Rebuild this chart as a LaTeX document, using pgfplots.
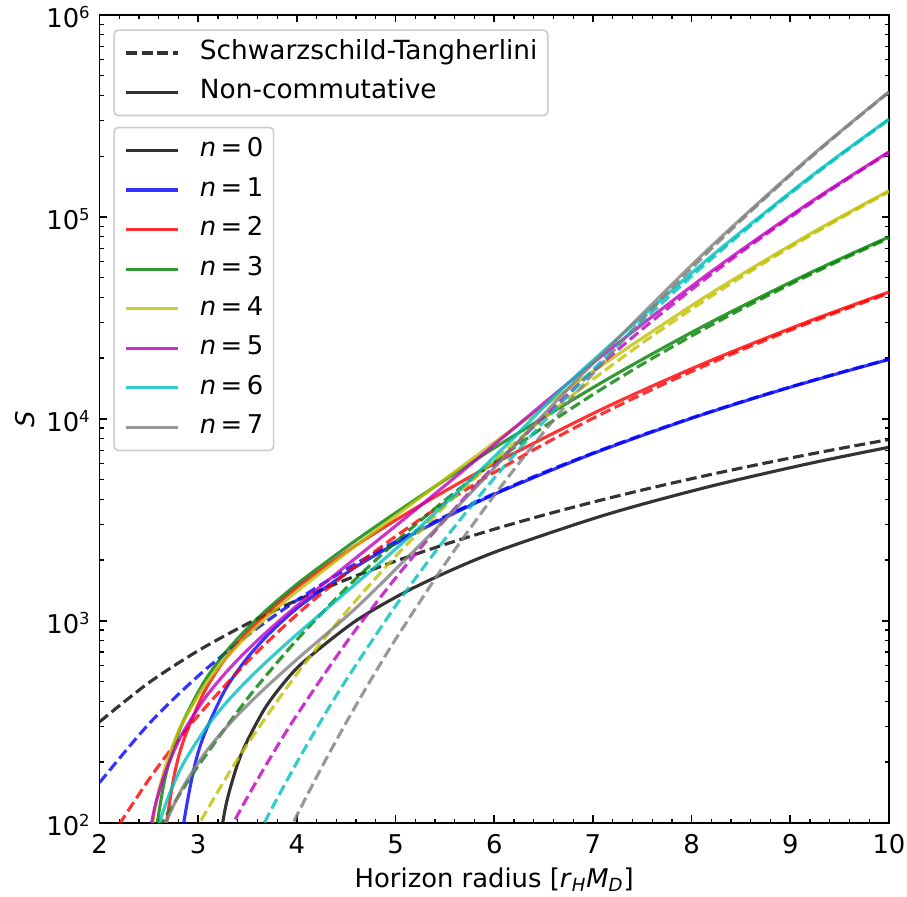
\documentclass[border=0pt]{standalone}
\usepackage{fontspec}
\setmainfont{DejaVu Sans}
\usepackage{pgfplots}
\pgfplotsset{compat=1.18}

\definecolor{mplb}{rgb}{0,0,1}
\definecolor{mplr}{rgb}{1,0,0}
\definecolor{mplg}{rgb}{0,0.5,0}
\definecolor{mply}{rgb}{0.75,0.75,0}
\definecolor{mplm}{rgb}{0.75,0,0.75}
\definecolor{mplc}{rgb}{0,0.75,0.75}
\definecolor{mplgray}{rgb}{0.5,0.5,0.5}

\newcommand{\tenpow}[1]{10\raisebox{4.3pt}{\fontsize{7.9}{9}\selectfont #1}}
\newcommand{\nlab}[1]{\textit{n}\hspace{0.17em}=\hspace{0.17em}#1}

\pgfplotsset{
  frame/.style={at={(0pt,0pt)}, anchor=south west, scale only axis,
    width=378.96pt, height=387.7pt},
  leg/.style={
    legend style={draw=black!20, line width=0.8pt, rounded corners=2pt,
      fill=white, fill opacity=0.8, text opacity=1,
      inner xsep=5pt, inner ysep=5pt, row sep=7pt,
      nodes={inner sep=0pt, text height=9pt, text depth=3pt},
      /tikz/every odd column/.append style={column sep=9.9pt}},
    legend cell align=left,
    legend image code/.code={\draw[##1] (0pt,0pt) -- (24.8pt,0pt);}},
  nc/.style={line width=1.5pt, draw opacity=0.8, line join=round, smooth, tension=0.5},
  st/.style={nc, dash pattern=on 5.2pt off 2.3pt},
}

\begin{document}
\fontsize{12.4}{14.9}\selectfont
\begin{tikzpicture}
\path[use as bounding box] (-47.76pt,-35.18pt) rectangle (387.6pt,394.9pt);
\begin{axis}[frame, leg,
  xmin=2, xmax=10, ymin=100, ymax=1000000, ymode=log,
  xtick={2,3,4,5,6,7,8,9,10}, xticklabels={2,3,4,5,6,7,8,9,10},
  minor x tick num=4,
  ytick={100,1000,10000,100000,1000000},
  yticklabels={\tenpow{2},\tenpow{3},\tenpow{4},\tenpow{5},\tenpow{6}},
  minor ytick={200,300,400,500,600,700,800,900,2000,3000,4000,5000,6000,7000,8000,9000,
    20000,30000,40000,50000,60000,70000,80000,90000,200000,300000,400000,500000,600000,700000,800000,900000},
  tick align=inside, xtick pos=both, ytick pos=both,
  major tick length=3.5pt, minor tick length=2pt,
  every major tick/.append style={line width=0.8pt, black},
  every minor tick/.append style={line width=0.6pt, black},
  axis line style={line width=0.8pt},
  xticklabel style={anchor=base, yshift=-14.8pt, inner sep=0pt},
  yticklabel style={anchor=base east, xshift=-4.5pt, yshift=-6.2pt, inner sep=0pt},
  xlabel={Horizon radius [\textit{r}\textsubscript{\textit{H}}\textit{M}\textsubscript{\textit{D}}]},
  ylabel={\textit{S}},
  xlabel style={at={(axis description cs:0.5,-0.0796)}, anchor=base, inner sep=0pt},
  ylabel style={at={(axis description cs:-0.0817,0.5)}, anchor=base, inner sep=0pt},
  legend style={at={(axis description cs:0.01748,0.86171)}, anchor=north west},
]
% n = 0
\addplot[st, black, forget plot] coordinates {(2,315.8) (2.5,493.5) (3,710.6) (3.5,967.2) (4,1263.3) (4.5,1598.9) (5,1973.9) (5.5,2388.4) (6,2842.5) (6.5,3335.9) (7,3868.9) (7.5,4441.3) (8,5053.2) (8.5,5704.6) (9,6395.5) (9.5,7125.9) (10,7895.7)};
\addplot[nc, black] coordinates {(3.111,16.7) (3.162,48.0) (3.264,110.7) (3.366,173.7) (3.468,237.2) (3.672,365.9) (3.876,497.7) (4.08,633.4) (4.59,993.8) (5.10,1388.5) (5.61,1821.3) (6.12,2294.2) (7.14,3362.5) (8.16,4594.4) (9.18,5991.1) (10,7233)};
\addlegendentry{\nlab{0}}
% n = 1
\addplot[st, mplb, forget plot] coordinates {(2,157.9) (2.5,308.4) (3,533.0) (3.5,846.3) (4,1263.3) (4.5,1798.7) (5,2467.4) (5.5,3284.1) (6,4263.6) (6.5,5420.9) (7,6770.5) (7.5,8327.4) (8,10106.4) (8.5,12122.2) (9,14389.7) (9.5,16924.0) (10,19739)};
\addplot[nc, mplb] coordinates {(2.754,16.9) (2.805,59.0) (2.856,101.2) (2.958,186.0) (3.06,271.8) (3.264,446.6) (3.468,628.0) (3.672,818.4) (3.876,1019.7) (4.08,1234.1) (4.59,1839.3) (5.10,2566.4) (5.61,3439.4) (6.12,4481) (7,6727) (8,10063) (9,14346) (10,19695.5)};
\addlegendentry{\nlab{1}}
% n = 2
\addplot[st, mplr, forget plot] coordinates {(2.2,98.1) (2.5,163.6) (2.75,239.6) (3,339.3) (3.5,628.6) (4,1072.3) (4.5,1717.7) (5,2618.0) (5.5,3833.0) (6,5428.7) (6.5,7477.3) (7,10057.3) (7.5,13253.6) (8,17157.3) (8.5,21865.8) (9,27482.7) (9.5,34118.1) (10,41888)};
\addplot[nc, mplr] coordinates {(2.601,34.6) (2.652,79.0) (2.754,168.3) (2.856,258.5) (3.06,443.4) (3.264,636.8) (3.468,842.2) (3.672,1063.0) (3.876,1302.9) (4.08,1565.6) (4.59,2348.9) (5.10,3370.9) (5.61,4709.2) (6.12,6446.1) (7.14,11461) (8.16,19147) (9.18,30323) (10,42464)};
\addlegendentry{\nlab{2}}
% n = 3
\addplot[st, mplg, forget plot] coordinates {(2.6,93.3) (2.75,123.5) (3,190.9) (3.5,412.5) (4,804.2) (4.5,1449.3) (5,2454.4) (5.5,3952.8) (6,6107.3) (6.5,9112.9) (7,13200.2) (7.5,18637.9) (8,25736) (8.5,34848.6) (9,46377.1) (9.5,60772.8) (10,78540)};
\addplot[nc, mplg] coordinates {(2.499,32.7) (2.55,73.5) (2.652,155.7) (2.754,238.8) (2.856,323.3) (3.06,498.5) (3.264,684.9) (3.468,886.3) (3.672,1107.2) (3.876,1352.4) (4.08,1627.4) (4.59,2486.4) (5.10,3692.7) (5.61,5402.4) (6.12,7808.4) (7.14,15655) (8.16,29498) (9.18,52288) (10,79624)};
\addlegendentry{\nlab{3}}
% n = 4
\addplot[st, mply, forget plot] coordinates {(2.95,87.9) (3.25,157.1) (3.5,245.1) (4,546.1) (4.5,1107.2) (5,2083.3) (5.5,3690.7) (6,6220.8) (6.5,10055.6) (7,15686.5) (7.5,23730) (8,34952.5) (8.5,50285.9) (9,70857.9) (9.5,98010.4) (10,133333)};
\addplot[nc, mply] coordinates {(2.407,11.7) (2.448,39.2) (2.55,108.3) (2.652,178.2) (2.754,249.2) (2.856,321.7) (3.06,473.6) (3.264,637.3) (3.468,816.8) (3.672,1016.8) (3.876,1242.8) (4.08,1501.3) (4.59,2341.3) (5.10,3598.8) (5.61,5514.2) (6.12,8423.9) (6.63,12785) (7.14,19125.6) (8.16,40827) (9.18,81261) (10,134799)};
\addlegendentry{\nlab{4}}
% n = 5
\addplot[st, mplm, forget plot] coordinates {(3.3,88.8) (3.5,134.0) (3.75,217.3) (4,341.3) (4.5,778.5) (5,1627.6) (5.5,3171.7) (6,5831.9) (6.5,10212.9) (7,17157) (7.5,27808.6) (8,43690) (8.5,66786.1) (9,99644.6) (9.5,145486.6) (10,208333)};
\addplot[nc, mplm] coordinates {(2.397,30.8) (2.448,58.1) (2.55,113.3) (2.652,169.2) (2.754,226.3) (2.856,284.9) (3.06,408.5) (3.264,543.0) (3.468,692.3) (3.672,860.9) (3.876,1054.3) (4.08,1279.0) (4.59,2034.0) (5.10,3228.9) (5.61,5170.7) (6.12,8337.9) (6.63,13457) (7.14,21439) (8.16,51933) (9.18,116206) (10,210080)};
\addlegendentry{\nlab{5}}
% n = 6
\addplot[st, mplc, forget plot] coordinates {(3.6,85.5) (3.75,118.6) (4,198.7) (4.25,322.7) (4.5,509.8) (5,1184.2) (5.5,2538.5) (6,5091.9) (6.5,9660.0) (7,17476.6) (7.5,30350.1) (8,50862.3) (8.5,82608.2) (9,130500.4) (9.5,201122) (10,303160)};
\addplot[nc, mplc] coordinates {(2.39,16.1) (2.49,54.0) (2.59,92.5) (2.69,131.5) (2.79,171.4) (2.89,212.6) (3.09,300.0) (3.29,395.8) (3.49,503.1) (3.69,625.7) (3.89,768.0) (4.09,935.6) (4.59,1515) (5.10,2504) (5.61,4269) (6.12,7402) (6.63,13228) (7.14,22399) (8.16,61555) (9.18,154865) (10,305125)};
\addlegendentry{\nlab{6}}
% n = 7
\addplot[st, mplgray, forget plot] coordinates {(3.9,86.5) (4,108.7) (4.25,187.5) (4.5,313.6) (4.75,510.2) (5,809.5) (5.5,1908.8) (6,4177.0) (6.5,8584.7) (7,16725.8) (7.5,31121) (8,55631.6) (8.5,96000.6) (9,160578) (9.5,261226) (10,414480)};
\addplot[nc, mplgray] coordinates {(2.376,19.4) (2.478,46.4) (2.58,73.8) (2.68,101.7) (2.78,130.4) (2.88,160.1) (3.075,223.3) (3.275,293.1) (3.475,372.1) (3.676,463.0) (3.878,569.4) (4.08,696.5) (4.59,1146.1) (5.10,2011.4) (5.61,3597.4) (6.12,6610.2) (6.63,12266) (7.14,22042) (8.16,68620) (9.18,194093) (10,416629)};
\addlegendentry{\nlab{7}}
\end{axis}

\begin{axis}[frame, leg, hide axis, xmin=0, xmax=1, ymin=0, ymax=1,
  legend style={at={(axis description cs:0.01748,0.98229)}, anchor=north west,
    font=\fontsize{12.65}{15.2}\selectfont}]
\addlegendimage{st, black}
\addlegendentry{Schwarzschild-Tangherlini}
\addlegendimage{nc, black}
\addlegendentry{Non-commutative}
\end{axis}
\end{tikzpicture}
\end{document}
